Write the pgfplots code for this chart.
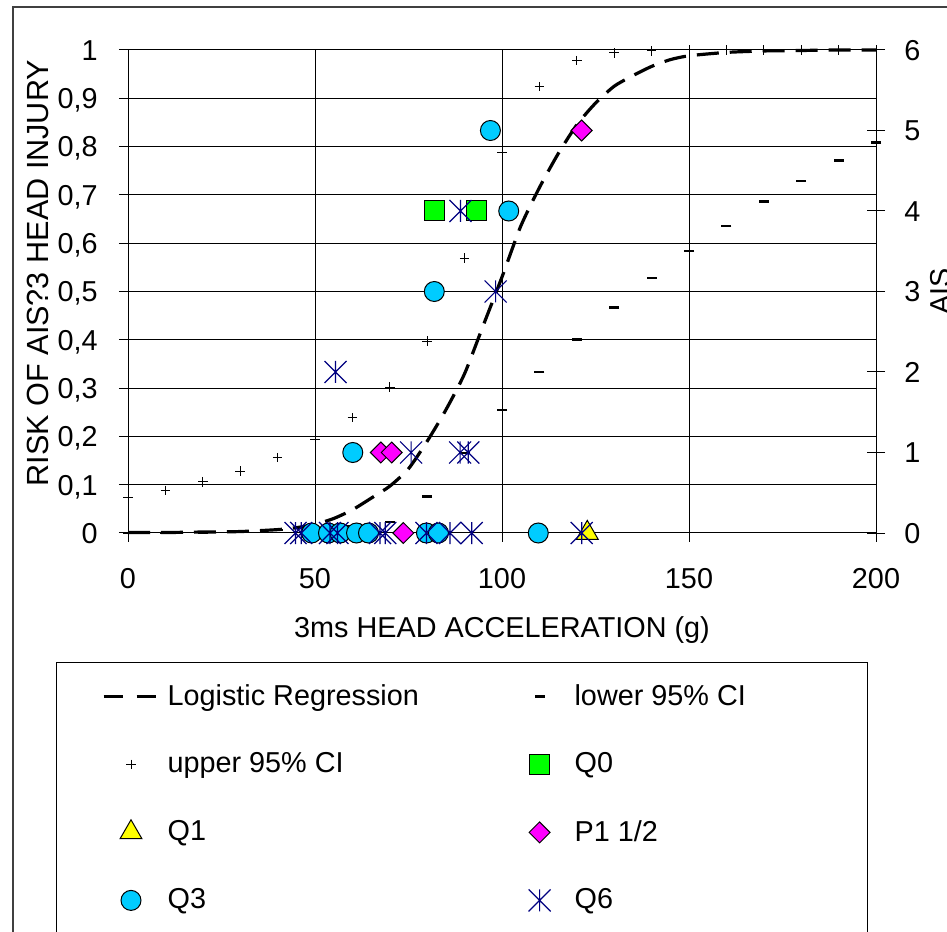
\documentclass[border=0pt]{standalone}
\usepackage{fontspec}
\setmainfont{Liberation Sans}
\usepackage{pgfplots}
\pgfplotsset{compat=1.18}
\definecolor{qgreen}{RGB}{0,255,0}
\definecolor{qyellow}{RGB}{255,255,0}
\definecolor{qmag}{RGB}{255,0,255}
\definecolor{qcyan}{RGB}{0,204,255}
\definecolor{qnavy}{RGB}{0,0,128}
\pgfdeclareplotmark{xstar}{%
 \pgfpathmoveto{\pgfqpoint{-\pgfplotmarksize}{-\pgfplotmarksize}}%
 \pgfpathlineto{\pgfqpoint{\pgfplotmarksize}{\pgfplotmarksize}}%
 \pgfpathmoveto{\pgfqpoint{-\pgfplotmarksize}{\pgfplotmarksize}}%
 \pgfpathlineto{\pgfqpoint{\pgfplotmarksize}{-\pgfplotmarksize}}%
 \pgfpathmoveto{\pgfqpoint{0pt}{-\pgfplotmarksize}}%
 \pgfpathlineto{\pgfqpoint{0pt}{\pgfplotmarksize}}%
 \pgfusepathqstroke}
\pgfplotsset{myleg/.style={legend image code/.code={%
 \path[draw=none, fill=none] (0pt,-17pt) rectangle (27.5pt,17pt);
 \draw[mark repeat=2,mark phase=2,##1] plot coordinates {(0pt,0pt) (13.75pt,0pt) (27.5pt,0pt)};}}}
\newcommand{\chartfont}{\fontsize{14.4}{17}\selectfont}
\begin{document}
\begin{tikzpicture}[font=\chartfont]
\useasboundingbox (0,0) rectangle (473.5pt,465.5pt);
\clip (0,0) rectangle (473.5pt,465.5pt);
\draw[black!75, line width=1pt] (6.65pt,-20pt) rectangle (500pt,461.85pt);
\begin{axis}[
 at={(64pt,199pt)}, anchor=south west, scale only axis, width=374pt, height=241.5pt,
 xmin=0, xmax=200, ymin=0, ymax=1, clip=false,
 /pgf/number format/assume math mode=true,
 xtick={0,50,100,150,200}, xticklabels={0,50,100,150,200},
 ytick={0,0.1,0.2,0.3,0.4,0.5,0.6,0.7,0.8,0.9,1},
 yticklabels={0,{0,1},{0,2},{0,3},{0,4},{0,5},{0,6},{0,7},{0,8},{0,9},1},
 xtick pos=bottom, ytick pos=left, tick align=outside, major tick length=4.5pt,
 grid=major, grid style={black, line width=0.5pt},
 axis line style={black, line width=0.5pt}, tick style={black, line width=0.5pt},
 xticklabel style={anchor=base, yshift=-23.5pt, inner sep=0pt, font=\chartfont},
 yticklabel style={anchor=base east, xshift=-10.5pt, yshift=-5.16pt, inner sep=0pt, font=\chartfont},
 xlabel={3ms HEAD ACCELERATION (g)},
 xlabel style={at={(axis description cs:0.5,0)}, anchor=base, yshift=-52.5pt, inner sep=0pt, font=\chartfont},
 ylabel={RISK OF AIS?3 HEAD INJURY},
 ylabel style={at={(axis description cs:-0.1350,0.538)}, anchor=north, inner sep=0pt, font=\fontsize{15.3}{18}\selectfont},
]
% Logistic regression
\addplot[black, line width=1.6pt, dash pattern=on 11pt off 5.5pt, smooth, tension=0.4] coordinates {
(0,0.001) (10,0.001) (20,0.002) (30,0.003) (40,0.007) (45,0.011) (50,0.018) (55,0.030)
(60,0.048) (65,0.072) (70,0.097) (75,0.133) (80,0.19) (85,0.255) (90,0.33) (95,0.43)
(100,0.53) (105,0.635) (110,0.715) (115,0.785) (120,0.845) (125,0.89) (130,0.925)
(135,0.947) (140,0.966) (145,0.98) (150,0.988) (160,0.995) (170,0.998) (180,0.999)
(190,1) (200,1)};
% lower 95% CI
\addplot[only marks, black, mark=-, mark size=2.5pt, mark options={line width=1.3pt}] coordinates {
(0,0) (10,0) (20,0.001) (30,0.002) (40,0.006) (50,0.009) (60,0.013) (70,0.023)
(80,0.075) (90,0.166) (100,0.255) (110,0.333) (120,0.40) (130,0.467) (140,0.528)
(150,0.584) (160,0.636) (170,0.686) (180,0.729) (190,0.771) (200,0.808)};
% upper 95% CI
\addplot[only marks, black, mark=+, mark size=2.4pt, mark options={line width=0.5pt}] coordinates {
(0,0.073) (10,0.088) (20,0.106) (30,0.128) (40,0.156) (50,0.194) (60,0.239) (70,0.302)
(80,0.397) (90,0.569) (100,0.788) (110,0.924) (120,0.978) (130,0.994) (140,0.998)
(150,1) (160,1) (170,1) (180,1) (190,1) (200,1)};
\end{axis}
\begin{axis}[
 at={(64pt,199pt)}, anchor=south west, scale only axis, width=374pt, height=241.5pt,
 xmin=0, xmax=200, ymin=0, ymax=6, clip=false,
 /pgf/number format/assume math mode=true,
 axis x line=none, axis y line*=right,
 ytick={0,1,2,3,4,5,6}, yticklabels={0,1,2,3,4,5,6},
 tick align=center, major tick length=9pt,
 axis line style={black, line width=0.5pt}, tick style={black, line width=0.5pt},
 yticklabel style={anchor=base west, xshift=9.5pt, yshift=-5.16pt, inner sep=0pt, font=\chartfont},
 ylabel={AIS},
 ylabel style={at={(axis description cs:1.0722,0.5)}, anchor=north, inner sep=0pt, font=\chartfont},
 legend columns=2, legend cell align=left,
 legend style={at={(-0.09626,-0.26708)}, anchor=north west, draw=black, fill=white,
   inner xsep=22.75pt, inner ysep=0pt, row sep=0pt, column sep=0pt,
   nodes={inner sep=0pt}, /tikz/every odd column/.append style={column sep=3.75pt},
   font=\chartfont},
]
\addlegendimage{black, line width=1.6pt, dash pattern=on 9.5pt off 7pt, myleg}
\addlegendentry{\makebox[172.25pt][l]{Logistic Regression}}
\addlegendimage{only marks, black, mark=-, mark size=2.5pt, mark options={line width=1.3pt}, myleg}
\addlegendentry{\makebox[123.75pt][l]{lower 95\% CI}}
\addlegendimage{only marks, black, mark=+, mark size=2.4pt, mark options={line width=0.5pt}, myleg}
\addlegendentry{\makebox[172.25pt][l]{upper 95\% CI}}
% Q0
\addplot[only marks, mark=square*, mark size=5pt, mark options={draw=black, fill=qgreen, line width=0.5pt}, myleg] coordinates {
(81.9,4) (93.2,4)};
\addlegendentry{\makebox[123.75pt][l]{Q0}}
% Q1
\addplot[only marks, mark=triangle*, mark size=6.3pt, mark options={draw=black, fill=qyellow, line width=0.5pt}, myleg] coordinates {
(122.8,0)};
\addlegendentry{\makebox[172.25pt][l]{Q1}}
% P1 1/2
\addplot[only marks, mark=square*, mark size=3.7pt, mark options={rotate=45, draw=black, fill=qmag, line width=0.5pt}, myleg] coordinates {
(73.6,0) (67.6,1) (70.5,1) (121.3,5)};
\addlegendentry{\makebox[123.75pt][l]{P1 1/2}}
% Q3
\addplot[only marks, mark=*, mark size=5pt, mark options={draw=black, fill=qcyan, line width=0.5pt}, myleg] coordinates {
(49.1,0) (53.6,0) (56.7,0) (61.1,0) (64.3,0) (79.8,0) (83,0) (109.7,0)
(60.1,1) (81.9,3) (101.8,4) (96.9,5)};
\addlegendentry{\makebox[172.25pt][l]{Q3}}
% Q6
\addplot[only marks, mark=xstar, mark size=5.5pt, mark options={draw=qnavy, line width=0.6pt}, myleg] coordinates {
(44.8,0) (46.3,0) (54,0) (56,0) (67.4,0) (68.8,0) (79.8,0) (86.1,0) (91.9,0) (121.3,0)
(75.7,1) (88.8,1) (91,1) (55.5,2) (98.3,3) (88.9,4)};
\addlegendentry{\makebox[123.75pt][l]{Q6}}
\end{axis}
\end{tikzpicture}
\end{document}
